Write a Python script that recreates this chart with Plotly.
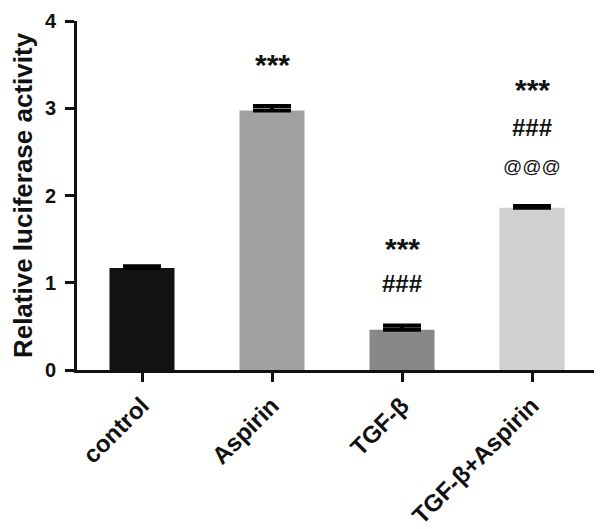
import plotly.graph_objects as go

categories = ["control", "Aspirin", "TGF-β", "TGF-β+Aspirin"]
means = [1.17, 2.975, 0.46, 1.86]
errors = [0.02, 0.05, 0.05, 0.02]
colors = ["#121212", "#a1a1a1", "#888888", "#d0d0d0"]

# significance marks: category, text, y position in data units, font size
sig_cats = ["Aspirin", "TGF-β", "TGF-β", "TGF-β+Aspirin", "TGF-β+Aspirin", "TGF-β+Aspirin"]
sig_text = ["***", "***", "###", "***", "###", "@@@"]
sig_y = [3.50, 1.39, 0.99, 3.22, 2.775, 2.33]
sig_size = [30, 30, 24, 30, 24, 19]

FONT = "Liberation Sans, Arial, sans-serif"

fig = go.Figure()
fig.add_trace(go.Bar(
    x=categories, y=means, width=0.5,
    marker=dict(color=colors, line=dict(width=0)),
    error_y=dict(type="data", array=errors, arrayminus=[0] * 4, symmetric=False,
                 color="#000000", thickness=4, width=19),
))

for c, t, yy, s in zip(sig_cats, sig_text, sig_y, sig_size):
    fig.add_annotation(x=c, y=yy, text="<b>%s</b>" % t if t != "@@@" else t,
                       showarrow=False, yanchor="middle",
                       font=dict(family=FONT, size=s, color="#111111"))

# page body has an 8px default margin, so the figure is offset by 8px
fig.update_layout(
    width=594, height=521,
    margin=dict(l=69, r=5, t=13, b=159),
    plot_bgcolor="white", paper_bgcolor="white",
    showlegend=False,
    font=dict(family=FONT, color="#111111"),
)
fig.update_xaxes(
    range=[-0.5, 3.5], showline=True, linewidth=3, linecolor="#111111",
    ticks="outside", ticklen=9, tickwidth=3, tickcolor="#111111",
    tickangle=-45, tickfont=dict(family=FONT, size=24, color="#111111", weight="bold"),
    showgrid=False, zeroline=False, automargin=False,
)
fig.update_yaxes(
    range=[0, 4], tickvals=[0, 1, 2, 3, 4], showline=True, linewidth=3, linecolor="#111111",
    ticks="outside", ticklen=9, tickwidth=3, tickcolor="#111111",
    tickfont=dict(family=FONT, size=20, color="#111111", weight="bold"),
    ticklabelstandoff=5, ticklabeloverflow="allow",
    title=dict(text="<b>Relative luciferase activity</b>",
               font=dict(family=FONT, size=26, color="#111111"), standoff=18),
    showgrid=False, zeroline=False, automargin=False,
)

fig.write_html("out.html")
